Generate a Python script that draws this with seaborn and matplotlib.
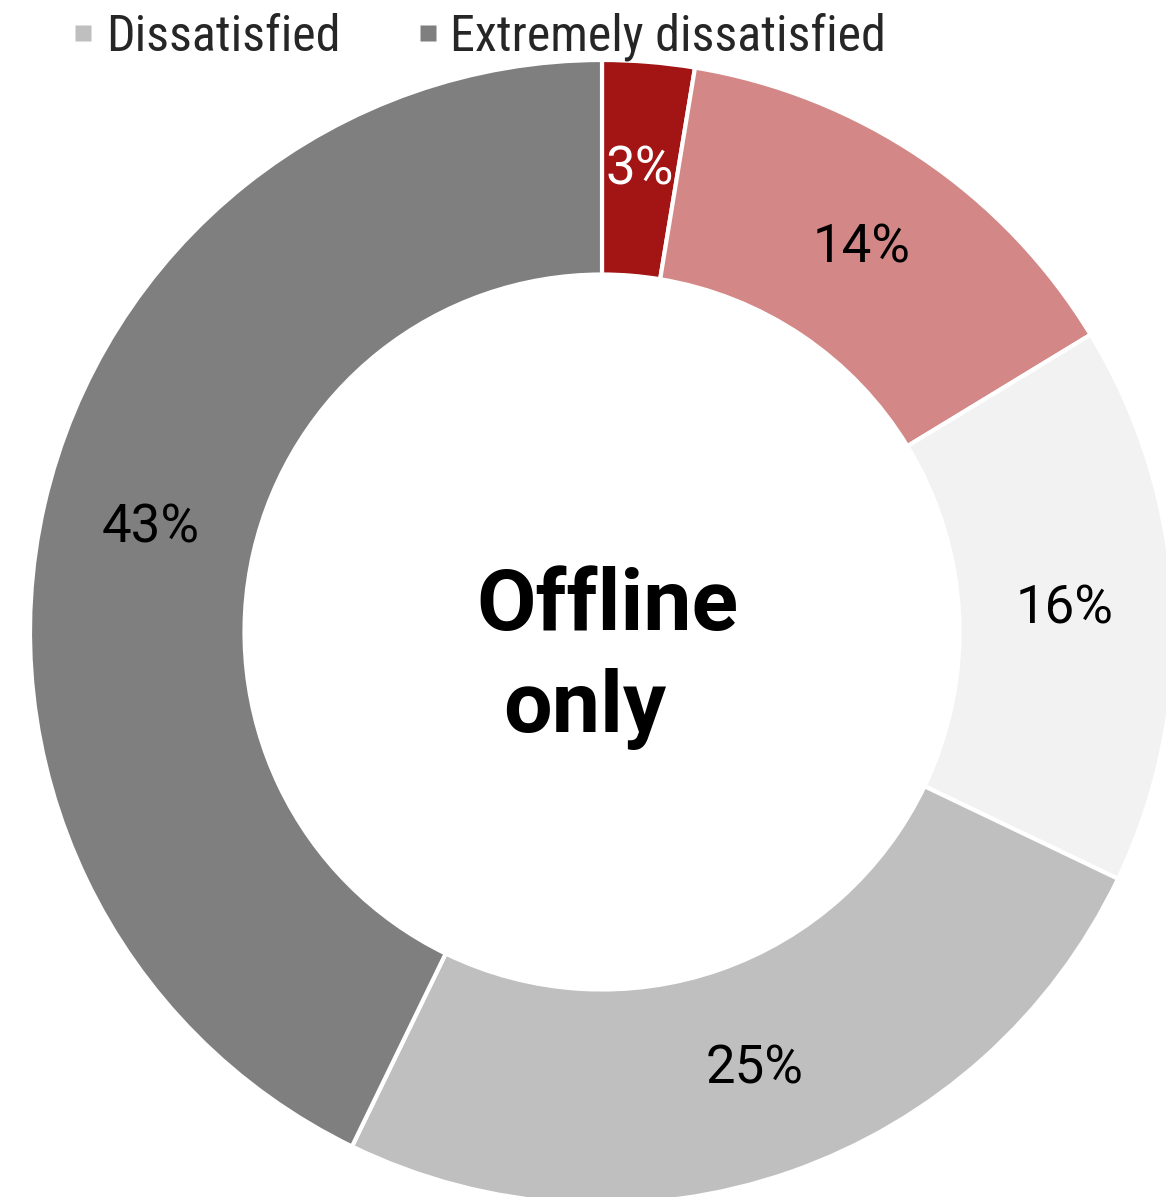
import matplotlib
matplotlib.use("Agg")
import matplotlib.pyplot as plt
from matplotlib.lines import Line2D
from matplotlib import font_manager
import seaborn as sns

categories = ["Extremely satisfied", "Satisfied", "Neutral", "Dissatisfied", "Extremely dissatisfied"]
values = [2.6, 13.7, 15.8, 25.1, 42.8]          # shares
value_labels = ["3%", "14%", "16%", "25%", "43%"]  # printed (rounded) labels
colors = ["#A31515", "#D38787", "#F2F2F2", "#BFBFBF", "#7F7F7F"]
label_colors = ["white", "black", "black", "black", "black"]
legend_shown = ["Dissatisfied", "Extremely dissatisfied"]
center_lines = ["Offline", "only"]

sns.set_theme(style="white")
plt.rcParams['font.family'] = ['Roboto', 'DejaVu Sans']

names = {f.name for f in font_manager.fontManager.ttflist}
narrow = 'Liberation Sans Narrow' if 'Liberation Sans Narrow' in names else 'Roboto Condensed' if 'Roboto Condensed' in names else 'Roboto'

W, H = 1166, 1197
fig = plt.figure(figsize=(W / 100, H / 100), dpi=100)
ax = fig.add_axes([0, 0, 1, 1])

cx, cy, R = 602, 632, 572  # pixel center (from top) and outer radius

wedges, texts = ax.pie(values, colors=colors, startangle=90, counterclock=False,
                       radius=1.0, labels=value_labels, labeldistance=0.81,
                       wedgeprops=dict(width=0.375, edgecolor="white", linewidth=3),
                       textprops=dict(fontsize=38))
for t, c in zip(texts, label_colors):
    t.set_color(c)
    t.set_ha("center")
    t.set_va("center")
ax.set_aspect("auto")
ax.set_xlim(-cx / R, (W - cx) / R)
ax.set_ylim(-(H - cy) / R, cy / R)
ax.axis("off")

ax.text(0.01, 0.045, center_lines[0], ha="center", va="center", fontsize=62,
        fontweight="bold", color="black")
ax.text(-0.03, -0.135, center_lines[1], ha="center", va="center", fontsize=62,
        fontweight="bold", color="black")

handles = [Line2D([], [], marker="s", linestyle="none", markersize=11,
                  markerfacecolor=colors[categories.index(n)], markeredgecolor="none")
           for n in legend_shown]
fig.legend(handles, legend_shown, loc="upper left", bbox_to_anchor=(0.020, 1.027),
           ncol=2, frameon=False, prop=dict(family=[narrow, 'Roboto'], size=36),
           handletextpad=0.15, columnspacing=1.45, handlelength=0.6)

fig.savefig("out.png", dpi=100)
